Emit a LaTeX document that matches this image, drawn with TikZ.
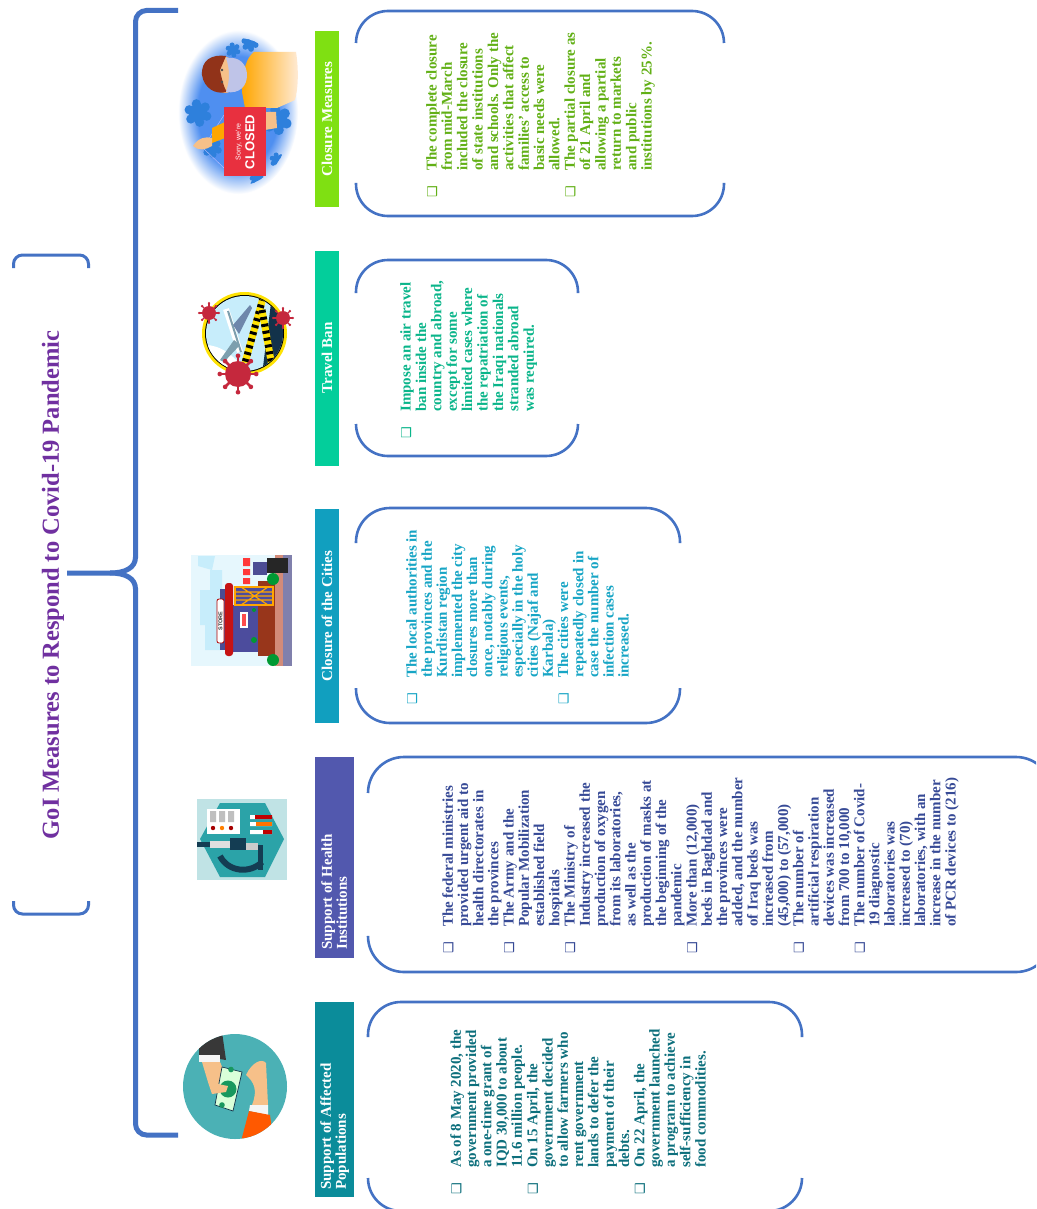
\documentclass[tikz,border=0pt]{standalone}
\usepackage{fontspec}
\setmainfont{Liberation Serif}
\newfontfamily\symf{DejaVu Sans}
\newfontfamily\sansf{Liberation Sans}
\definecolor{brk}{HTML}{4472C4}
\definecolor{ttl}{HTML}{7030A0}
\definecolor{hA}{HTML}{7FE012}\definecolor{tA}{HTML}{62B016}
\definecolor{hB}{HTML}{03CE9B}\definecolor{tB}{HTML}{0AB58A}
\definecolor{hC}{HTML}{119FBF}\definecolor{tC}{HTML}{17A5C5}
\definecolor{hD}{HTML}{5258AE}\definecolor{tD}{HTML}{374A96}
\definecolor{hE}{HTML}{0B8C9A}\definecolor{tE}{HTML}{0D6F7C}
\definecolor{icoblue}{HTML}{4F8FF0}
\definecolor{blob}{HTML}{2E80DC}
\definecolor{vred}{HTML}{C5283D}
\definecolor{navy}{HTML}{12324A}
\definecolor{teal}{HTML}{2BA3A8}
\definecolor{skin}{HTML}{F6C089}
\definecolor{signred}{HTML}{E8303F}
\pgfdeclareradialshading{fadeblue}{\pgfpointorigin}{color(0bp)=(icoblue);color(17bp)=(icoblue);color(25bp)=(white);color(50bp)=(white)}
\newcommand{\bl}{\makebox[0pt][r]{{\symf\mdseries\fontsize{13}{13}\selectfont ❑}\hspace{15pt}}}
\newcommand{\virus}[4]{%
  \foreach \a in {0,45,...,315}{\draw[#4,line width=#3*0.2pt] (#1,#2) -- ++(\a:#3*1.4);
    \fill[#4] (#1,#2) ++(\a:#3*1.4) circle (#3*0.18);}
  \fill[#4] (#1,#2) circle (#3);}
\newcommand{\lobed}[3]{%
  \foreach \a in {20,80,...,320}{\fill[blob] (#1,#2) ++(\a:#3*0.85) circle (#3*0.42);}
  \fill[blob] (#1,#2) circle (#3*0.85);}
\newcommand{\bracketbox}[7]{%
  \draw[brkline,rounded corners=#7pt] (#1,#5) -- (#1,#2) -- (#3,#2) -- (#3,#5);
  \draw[brkline,rounded corners=#7pt] (#1,#6) -- (#1,#4) -- (#3,#4) -- (#3,#6);}
\tikzset{
  brkline/.style={draw=brk,line width=2.6pt,line cap=butt},
  titlebrk/.style={draw=brk,line width=3pt,rounded corners=9pt},
  brace/.style={draw=brk,line width=5pt,rounded corners=11pt},
  body/.style 2 args={anchor=north west,rotate=90,inner sep=0pt,align=left,text=#1,font=\fontsize{15}{#2}\selectfont\bfseries},
  headtext/.style={rotate=90,inner sep=0pt,text=white,font=\fontsize{15}{15}\selectfont\bfseries,align=left},
}
\begin{document}
\begin{tikzpicture}[x=1pt,y=-1pt]
\useasboundingbox (0,0) rectangle (1036,1209);
\fill[white] (0,0) rectangle (1036,1209);
\clip (0,0) rectangle (1036,1209);

% title
\node[rotate=90,inner sep=0pt,text=ttl,font=\fontsize{24.5}{24.5}\selectfont\bfseries] (title) at (53,585) {GoI Measures to Respond to Covid-19 Pandemic};
\draw[titlebrk] (13.5,268) -- (13.5,255) -- (88.5,255) -- (88.5,268);
\draw[titlebrk] (13.5,901) -- (13.5,914) -- (88.5,914) -- (88.5,901);

% big brace
\draw[brace] (178,10.5) -- (135.5,10.5) -- (135.5,558);
\draw[brace] (178,1135) -- (135.5,1135) -- (135.5,588);
\draw[draw=brk,line width=5pt] (135.5,557) .. controls (135.5,568) and (125,573) .. (110,573) -- (67,573);
\draw[draw=brk,line width=5pt] (135.5,589) .. controls (135.5,578) and (125,573) .. (110,573);

% headers
\fill[hA] (315,31) rectangle (339,207);
\node[headtext] (hdA) at (327,119) {Closure Measures};
\fill[hB] (315,251) rectangle (339,466);
\node[headtext] (hdB) at (327,358) {Travel Ban};
\fill[hC] (315,509) rectangle (339,723);
\node[headtext] (hdC) at (327,616) {Closure of the Cities};
\fill[hD] (315,757) rectangle (354,958);
\node[headtext,anchor=north west] (hdD) at (321,950) {Support of Health\\Institutions};
\fill[hE] (315,1002) rectangle (354,1197);
\node[headtext,anchor=north west] (hdE) at (320,1190) {Support of Affected\\Populations};

% bracket boxes
\bracketbox{356}{11}{724}{216}{43}{183}{32}
\bracketbox{356}{260}{578}{456}{293}{424}{32}
\bracketbox{356}{508}{680}{723}{543}{688}{34}
\bracketbox{368}{757}{1052}{972}{793}{937}{36}
\bracketbox{368}{1002}{802}{1211}{1037}{1178}{33}

% texts
\node[body={tA}{15.36}] (txA) at (426,171) {\bl The complete closure\\from mid-March\\included the closure\\of state institutions\\and schools. Only the\\activities that affect\\families' access to\\basic needs were\\allowed.\\\bl The partial closure as\\of 21 April and\\allowing a partial\\return to markets\\and public\\institutions by 25\%.};
\node[body={tB}{15.4}] (txB) at (400,412) {\bl Impose an air travel\\ban inside the\\country and abroad,\\except for some\\limited cases where\\the repatriation of\\the Iraqi nationals\\stranded abroad\\was required.};
\node[body={tC}{15.15}] (txC) at (406,678) {\bl The local authorities in\\the provinces and the\\Kurdistan region\\implemented the city\\closures more than\\once, notably during\\religious events,\\especially in the holy\\cities (Najaf and\\Karbala)\\\bl The cities were\\repeatedly closed in\\case the number of\\infection cases\\increased.};
\node[body={tD}{15.24}] (txD) at (442,927) {\bl The federal ministries\\provided urgent aid to\\health directorates in\\the provinces\\\bl The Army and the\\Popular Mobilization\\established field\\hospitals\\\bl The Ministry of\\Industry increased the\\production of oxygen\\from its laboratories,\\as well as the\\production of masks at\\the beginning of the\\pandemic\\\bl More than (12,000)\\beds in Baghdad and\\the provinces were\\added, and the number\\of Iraq beds was\\increased from\\(45,000) to (57,000)\\\bl The number of\\artificial respiration\\devices was increased\\from 700 to 10,000\\\bl The  number of Covid-\\19 diagnostic\\laboratories was\\increased to (70)\\laboratories, with an\\increase in the number\\of PCR devices to (216)};
\node[body={tE}{15.3}] (txE) at (450,1168) {\bl As of 8 May 2020, the\\government provided\\a one-time grant of\\IQD 30,000 to about\\11.6 million people.\\\bl On 15 April, the\\government decided\\to allow farmers who\\rent government\\lands to defer the\\payment of their\\debts.\\\bl On 22 April, the\\government launched\\a program to achieve\\self-sufficiency in\\food commodities.};

% ===== icon: closed
\shade[shading=fadeblue] (238,112) ellipse (60 and 82);
\begin{scope}
\clip (238,112) ellipse (54 and 74);
\lobed{198}{113}{11}\lobed{212}{148}{8}\lobed{277}{120}{12}
\lobed{233}{50}{6}\lobed{250}{43}{7}\lobed{257}{180}{6}\lobed{277}{160}{6}
\end{scope}
\draw[white!75!blue,line width=0.4pt] (203,148) -- (224,115) (203,148) -- (224,168);
\shade[left color=orange!70!yellow,right color=orange!15] (242,92) .. controls (243,70) and (246,58) .. (254,52) -- (296,52) .. controls (299,70) and (298,90) .. (295,100) -- (277,108) -- (245,108) -- cycle;
\fill[orange!70!yellow] (212,128) -- (225,122) -- (225,138) -- (212,143) -- cycle;
\fill[skin] (193,146) .. controls (198,138) and (206,136) .. (212,138) -- (212,146) .. controls (206,150) and (198,151) .. (193,146) -- cycle;
\fill[skin] (265,112) -- (276,112) -- (277,128) -- (265,130) -- cycle;
\fill[orange!55!red] (238,75) ellipse (8 and 14);
\fill[skin] (225,75) ellipse (13 and 18);
\fill[black!55!red!60!brown] (202,75) .. controls (201,60) and (212,54) .. (226,56) -- (220,70) .. controls (222,80) and (224,88) .. (227,92) .. controls (215,95) and (204,88) .. (202,75) -- cycle;
\fill[cyan!30!blue!25] (226,58) .. controls (240,56) and (247,65) .. (247,75) .. controls (247,86) and (240,94) .. (226,92) .. controls (230,80) and (230,70) .. (226,58) -- cycle;
\fill[black!70] (222,70) circle (1.3) (222,82) circle (1.3);
\fill[signred] (224,107) rectangle (266,176);
\node[rotate=90,inner sep=0pt,text=white,font=\sansf\fontsize{13}{13}\selectfont\bfseries] (closedsign) at (250,142) {CLOSED};
\node[rotate=90,inner sep=0pt,text=white,font=\sansf\fontsize{7}{7}\selectfont] (sorrysign) at (239,142) {Sorry, we're};

% ===== icon: travel
\fill[yellow!85!orange] (244.5,333.5) ellipse (42.5 and 41.5);
\fill[black] (244.5,333.5) ellipse (39.5 and 38.5);
\begin{scope}
\clip (244.5,333.5) ellipse (38.5 and 37.5);
\fill[cyan!22] (200,290) rectangle (290,380);
\fill[white] (205,345) .. controls (220,345) and (235,355) .. (245,372) -- (205,372) -- cycle;
\fill[navy] (272,295) -- (290,295) -- (290,375) -- (262,375) -- cycle;
\draw[white,line width=6pt] (226,309) -- (240,352);
\draw[cyan!30!gray,line width=2pt] (228,311) -- (241,352);
\fill[cyan!30!gray!80!blue] (233,325) -- (250,305) -- (252,308) -- (239,334) -- cycle;
\fill[cyan!30!gray] (234,340) -- (220,360) -- (224,362) -- (240,345) -- cycle;
\draw[yellow!85!orange,line width=7pt] (263,298) -- (245,363);
\draw[black,line width=7pt,dash pattern=on 3pt off 4pt] (263,298) -- (245,363);
\draw[yellow!85!orange,line width=7pt] (262,310) -- (273,372);
\draw[black,line width=7pt,dash pattern=on 3pt off 4pt] (262,310) -- (273,372);
\end{scope}
\virus{209}{313}{7}{vred}\virus{283}{318}{7}{vred}\virus{238}{374}{13}{vred}

% ===== icon: store
\fill[cyan!10] (191,555) rectangle (292,666);
\fill[cyan!22] (200,590) -- (210,590) -- (210,570) -- (222,570) -- (222,650) -- (205,650) -- (205,625) -- (200,625) -- cycle (198,556) -- (215,556) -- (212,570) -- (198,566) -- cycle;
\fill[gray!50!red!60!brown!70] (275,555) rectangle (283,666);
\fill[black!65!blue!50] (283,555) rectangle (292,666);
\fill[blue!40!black!70] (253,562) rectangle (267,575);
\fill[red!70!pink] (243,558) rectangle (250,566) (243,569) rectangle (250,575) (243,578) rectangle (250,584);
\fill[black!85] (267,558) rectangle (288,573);
\fill[blue!40!black!70] (220,589) rectangle (227,650);
\fill[blue!45!black!70] (232,605) rectangle (258,652);
\fill[brown!60!red!70!black] (258,581) rectangle (275,656);
\fill[blue!45!black!70] (235,587) rectangle (273,605);
\draw[orange!70!yellow,line width=1.5pt] (235,587) rectangle (273,605);
\draw[orange!70!yellow,line width=1.2pt] (235,592) -- (273,592) (235,596) -- (273,596) (235,600) -- (273,600) (241,587) -- (268,605) (241,605) -- (268,587);
\fill[red!75!black!90!pink,rounded corners=3pt] (225,583) rectangle (233,656);
\fill[white,draw=red!70!black,line width=0.8pt,rounded corners=2pt] (217,599) rectangle (224,643);
\node[rotate=90,inner sep=0pt,text=black!80,font=\sansf\fontsize{5.5}{5.5}\selectfont\bfseries] (storesign) at (220.5,621) {STORE};
\fill[white] (240,612) rectangle (248,628);
\fill[red!60!pink] (242,614) rectangle (246,626);
\fill[green!50!black!80!cyan] (273,579) circle (6) (273,660) circle (6) (254,610) circle (2) (254,640) circle (3);

% ===== icon: health
\fill[teal!30] (197,799) rectangle (287,880);
\fill[teal] (284,839) -- (265,803) -- (220,803) -- (200,839) -- (220,877) -- (265,877) -- cycle;
\fill[white] (207,809) rectangle (240,834);
\fill[gray!50] (210,811) rectangle (216,822) (219,811) rectangle (225,822) (228,811) rectangle (234,822);
\fill[red!65!black] (213,828) circle (2.2) (231,828) circle (2.2);
\fill[orange] (222,828) circle (2.2);
\fill[white] (250,815) rectangle (272,819) (250,822) rectangle (272,826) (250,830) rectangle (272,834);
\fill[red!75!black] (255,815) rectangle (272,819) (263,830) rectangle (272,834);
\fill[orange!90!red] (256,822) rectangle (272,826);
\fill[navy!90!teal] (197,842) rectangle (210,847);
\fill[gray!25] (210,841) rectangle (230,848);
\fill[navy!90!teal] (230,838) rectangle (246,850);
\fill[gray!40] (246,843) rectangle (258,850);
\fill[navy!90!teal] (258,845) rectangle (263,870);
\draw[navy!90!teal,line width=6pt] (220,856) .. controls (228,872) and (250,874) .. (262,862);

% ===== icon: money
\fill[teal!85!white] (235,1086.5) ellipse (52 and 52.5);
\begin{scope}
\clip (235,1086.5) ellipse (52 and 52.5);
\fill[black!78] (199,1056) -- (199,1045) -- (222,1032) -- (226,1060) -- cycle;
\fill[white!92!gray] (199,1055) rectangle (220,1062);
\fill[skin] (202,1062) -- (220,1062) -- (227,1078) -- (222,1090) -- (208,1082) -- cycle;
\fill[white!85!green,draw=navy,line width=0.7pt] (222,1067) -- (242,1072) -- (233,1111) -- (215,1105) -- cycle;
\fill[teal!70!green!80!black] (228,1089) circle (8.5);
\fill[teal!70!green!80!black] (231,1069.5) circle (2.8) (222,1105) circle (2.8);
\fill[skin] (208,1082) -- (228,1086) -- (226,1092) -- (212,1094) -- cycle;
\fill[skin] (246,1075) .. controls (252,1062) and (262,1058) .. (266,1063) -- (268,1105) -- (252,1105) .. controls (258,1090) and (254,1082) .. (246,1075) -- cycle;
\fill[white!92!gray] (250,1105) -- (268,1105) -- (268,1115) -- (249,1111) -- cycle;
\fill[orange!70!red] (249,1111) -- (270,1115) -- (274,1145) -- (240,1145) -- cycle;
\end{scope}
\end{tikzpicture}
\end{document}
